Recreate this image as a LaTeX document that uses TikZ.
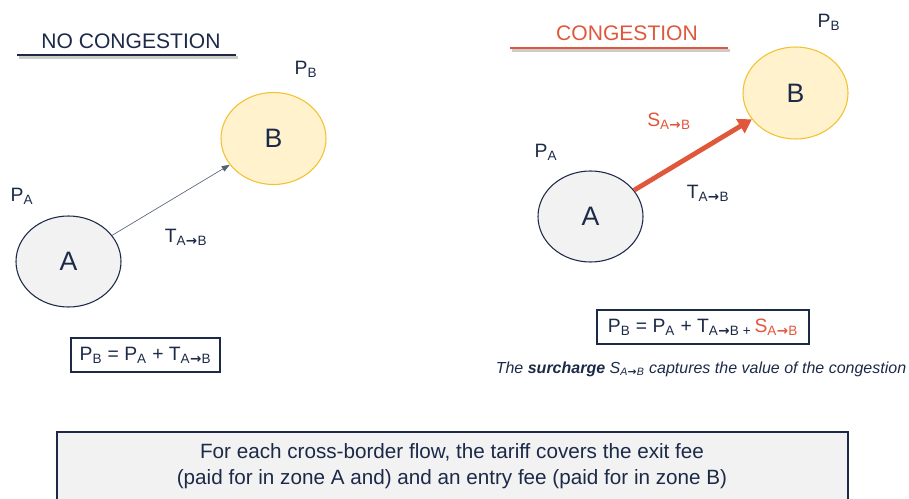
\documentclass[tikz,border=0pt]{standalone}
\usepackage{fontspec}
\setmainfont{Liberation Sans}
\newfontfamily\arrfont{DejaVu Sans}
\usetikzlibrary{shapes.geometric,arrows.meta}
\definecolor{navy}{HTML}{1C2A48}
\definecolor{cred}{HTML}{E0573B}
\definecolor{yfill}{HTML}{FFF2CC}
\definecolor{ydraw}{HTML}{F2C230}
\definecolor{gfill}{HTML}{F2F2F2}
\newcommand\subx[1]{\textsubscript{#1}}
\newcommand\atob{A\kern0.2pt{\arrfont\bfseries →}\kern0.2pt B}
\tikzset{
  zoneA/.style={ellipse,draw=navy,fill=gfill,line width=0.8pt,minimum width=78.75pt,minimum height=68.25pt,inner sep=0pt,text=navy,font=\fontsize{20}{22}\selectfont},
  zoneB/.style={ellipse,draw=ydraw,fill=yfill,line width=0.8pt,minimum width=78.75pt,minimum height=69pt,inner sep=0pt,text=navy,font=\fontsize{20}{22}\selectfont},
  lbl/.style={text=navy,font=\fontsize{14.5}{17}\selectfont,inner sep=0pt},
  title/.style={font=\fontsize{15.8}{18}\selectfont,inner sep=0pt},
  eqbox/.style={draw=navy,line width=0.8pt,text=navy,font=\fontsize{14.5}{17}\selectfont,inner sep=0pt},
}
\begin{document}
\begin{tikzpicture}[x=0.75pt,y=-0.75pt]
\useasboundingbox (0,0) rectangle (909,499);
% ---- left: no congestion
\node[title,text=navy] (t1) at (131,41) {NO CONGESTION};
\draw[gray!40,line width=2pt] (19,57.5) -- (238,57.5);
\draw[navy,line width=2.2pt] (17,55) -- (236,55);
\node[zoneB] (B1) at (273.5,138.5) {B};
\node[zoneA] (A1) at (68.5,261.5) {A};
\node[lbl] (pb1) at (306,69) {P\subx{B}};
\node[lbl] (pa1) at (22,196) {P\subx{A}};
\node[lbl] (ta1) at (186,237) {T\subx{\atob}};
\draw[navy!75,line width=0.5pt,-{Triangle[length=6pt,width=4.5pt]}] (A1) -- (B1);
\node[eqbox,minimum width=111.75pt,minimum height=25.5pt] (eq1) at (145.5,355) {P\subx{B} = P\subx{A} + T\subx{\atob}};
% ---- right: congestion
\node[title,text=cred] (t2) at (627,33) {CONGESTION};
\draw[gray!40,line width=2pt] (512,50.5) -- (730,50.5);
\draw[cred,line width=2.2pt] (510,48) -- (728,48);
\node[zoneB] (B2) at (795.5,93) {B};
\node[zoneA] (A2) at (590.5,216.5) {A};
\node[lbl] (pb2) at (829,22) {P\subx{B}};
\node[lbl] (pa2) at (546,152) {P\subx{A}};
\node[lbl,text=cred] (sa2) at (669,121) {S\subx{\atob}};
\node[lbl] (ta2) at (708,193) {T\subx{\atob}};
\draw[cred,line width=3.6pt,-{Triangle[length=10pt,width=12pt]}] (A2) -- (B2);
\node[eqbox,minimum width=159pt,minimum height=25.5pt] (eq2) at (703,327) {P\subx{B} = P\subx{A} + T\subx{\atob}\,\subx{+}\,\textcolor{cred}{S\subx{\atob}}};
\node[text=navy,font=\fontsize{12}{14}\selectfont\itshape,inner sep=0pt] (cap) at (701,369) {The \textbf{surcharge} S\subx{\atob} captures the value of the congestion};
% ---- bottom box
\draw[navy,fill=gfill,line width=0.8pt] (57,512) -- (57,432) -- (848,432) -- (848,512);
\node[text=navy,font=\fontsize{15.5}{19.5}\selectfont,align=center,inner sep=0pt] (note) at (452,466) {For each cross-border flow, the tariff covers the exit fee\\(paid for in zone A and) and an entry fee (paid for in zone B)};
\end{tikzpicture}
\end{document}
